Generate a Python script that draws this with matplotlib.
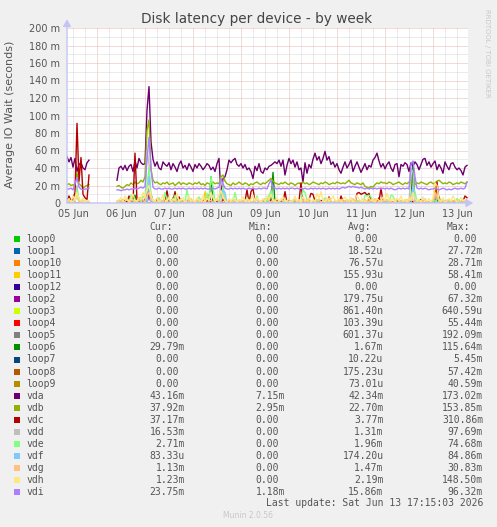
import numpy as np
import matplotlib
matplotlib.use('Agg')
import matplotlib.pyplot as plt
from matplotlib.patches import Rectangle

"""
Munin style 'Disk latency per device - by week' graph.
Values in milliseconds, one sample per hour, 05 Jun 09:00 .. 13 Jun 17:00.
"""

W, H = 497, 527

hours = np.arange(9, 210)
gap = [np.nan] * 13   # no data from 05 Jun 21:00 to 06 Jun 09:00

days = ['05 Jun', '06 Jun', '07 Jun', '08 Jun', '09 Jun', '10 Jun', '11 Jun', '12 Jun', '13 Jun']

vda = ([53, 47, 52, 41, 51, 36, 44, 46, 40, 38, 46, 49] + gap +
       [26, 40, 42, 38, 43, 37, 42, 44, 36, 48, 40, 51, 46, 44, 45, 106, 133, 70, 50] +
       [42, 47, 40, 38, 47, 44, 42, 46, 38, 45, 41, 36, 44, 48, 40, 43, 38, 45, 41] +
       [36, 44, 40, 45, 42, 38, 41, 45, 43, 38, 41, 36, 45, 51, 8, 28, 30, 38, 49, 46, 49, 51, 44, 42] +
       [45, 40, 44, 38, 40, 36, 28, 42, 37, 45, 36, 34, 40, 38, 42, 43, 45, 47, 45, 49, 42, 49, 32, 43] +
       [51, 45, 49, 41, 47, 38, 40, 24, 46, 34, 44, 40, 50, 57, 49, 53, 45, 51, 59, 49, 53, 44, 47, 41] +
       [45, 38, 34, 41, 47, 40, 44, 49, 36, 42, 47, 41, 35, 40, 45, 38, 43, 41, 49, 52, 57, 48, 41, 45] +
       [39, 44, 47, 40, 36, 44, 45, 30, 44, 42, 46, 44, 36, 46, 42, 47, 44, 38, 44, 50, 51, 43, 47, 41] +
       [45, 48, 38, 44, 40, 34, 47, 42, 38, 45, 46, 41, 38, 40, 37, 32, 41, 43])

vdb = ([21, 22, 20, 21, 19, 35, 22, 20, 17, 19, 20, 21] + gap +
       [19, 20, 18, 17, 19, 21, 20, 23, 21, 24, 22, 23, 26, 24, 30, 83, 95, 38, 26] +
       [23, 24, 22, 21, 23, 22, 24, 21, 22, 23, 20, 22, 24, 21, 23, 22, 21, 23, 22] +
       [21, 23, 22, 24, 21, 22, 20, 23, 22, 21, 24, 22, 23, 22, 30, 32, 25, 22, 21, 20, 23, 21, 22, 24] +
       [22, 21, 23, 22, 20, 22, 21, 23, 24, 22, 21, 23, 22, 24, 26, 28, 25, 23, 22, 21, 23, 22, 24, 22] +
       [21, 23, 22, 20, 22, 23, 21, 24, 22, 23, 21, 22, 24, 23, 22, 21, 23, 22, 24, 23, 21, 22, 23, 22] +
       [24, 23, 22, 23, 22, 24, 26, 23, 22, 21, 23, 22, 21, 23, 19, 18, 17, 19, 18, 21, 23, 22, 24, 23] +
       [23, 22, 24, 23, 21, 22, 23, 24, 22, 21, 23, 22, 24, 23, 22, 21, 23, 22, 24, 23, 22, 21, 23, 24] +
       [22, 23, 25, 26, 24, 22, 23, 22, 24, 23, 21, 22, 23, 22, 24, 23, 22, 24])

vdc = ([3, 8, 2, 5, 12, 91, 25, 52, 10, 6, 4, 32] + gap +
       [1, 3, 0, 4, 2, 1, 8, 2, 0, 57, 3, 1, 6, 2, 4, 12, 8, 10, 2] +
       [0, 5, 1, 2, 0, 3, 14, 1, 0, 2, 13, 0, 7, 1, 2, 0, 3, 1, 0] +
       [2, 0, 1, 3, 0, 1, 4, 2, 9, 1, 0, 3, 1, 2, 0, 5, 1, 0, 3, 1, 2, 0, 1, 2] +
       [0, 1, 2, 15, 0, 13, 17, 1, 0, 2, 1, 3, 0, 1, 5, 2, 0, 1, 3, 0, 2, 1, 13, 0] +
       [1, 2, 0, 3, 1, 2, 23, 1, 0, 2, 4, 11, 10, 2, 1, 0, 3, 1, 2, 0, 7, 1, 0, 2] +
       [1, 0, 8, 2, 1, 0, 3, 1, 2, 0, 11, 12, 10, 11, 12, 9, 11, 1, 0, 2, 1, 2, 17, 1] +
       [2, 1, 0, 2, 1, 0, 3, 1, 0, 2, 1, 0, 3, 1, 2, 0, 1, 2, 4, 1, 0, 2, 1, 0] +
       [3, 1, 24, 3, 0, 2, 1, 3, 0, 1, 2, 0, 1, 3, 0, 2, 8, 6])

vde = ([0, 2, 1, 0, 3, 15, 5, 1, 0, 2, 1, 0] + gap +
       [0, 1, 3, 0, 2, 5, 1, 9, 2, 0, 1, 4, 2, 8, 5, 20, 40, 10, 2] +
       [1, 0, 6, 2, 1, 12, 3, 0, 2, 1, 9, 1, 0, 4, 2, 1, 15, 3, 0] +
       [2, 1, 0, 7, 3, 1, 2, 11, 4, 30, 18, 2, 0, 1, 10, 18, 4, 1, 0, 3, 1, 12, 2, 1] +
       [0, 2, 1, 6, 3, 0, 1, 2, 8, 1, 0, 3, 5, 1, 9, 13, 6, 2, 0, 1, 4, 2, 1, 0] +
       [2, 0, 1, 3, 1, 0, 2, 15, 12, 3, 1, 0, 2, 1, 4, 1, 0, 2, 6, 1, 3, 0, 1, 2] +
       [1, 3, 0, 2, 1, 4, 0, 1, 2, 0, 3, 1, 2, 0, 9, 8, 9, 7, 2, 1, 0, 2, 1, 3] +
       [0, 2, 1, 9, 8, 3, 1, 0, 2, 1, 4, 2, 1, 6, 18, 12, 3, 1, 0, 2, 5, 1, 0, 2] +
       [1, 3, 0, 2, 4, 1, 0, 2, 1, 3, 0, 1, 5, 2, 0, 1, 3, 3])

vdg = ([1, 3, 2, 0, 4, 6, 2, 1, 3, 2, 1, 2] + gap +
       [2, 1, 3, 0, 2, 5, 1, 2, 4, 1, 3, 2, 6, 3, 1, 8, 12, 4, 2] +
       [1, 2, 4, 1, 3, 0, 2, 5, 1, 3, 2, 1, 4, 2, 0, 3, 1, 2, 5] +
       [2, 0, 3, 1, 4, 2, 1, 6, 2, 3, 1, 2, 5, 1, 3, 8, 2, 1, 3, 0, 2, 4, 1, 2] +
       [1, 3, 2, 0, 4, 1, 2, 5, 3, 1, 2, 0, 3, 6, 2, 1, 4, 2, 1, 3, 0, 2, 5, 1] +
       [2, 1, 3, 4, 1, 2, 0, 3, 1, 5, 2, 1, 3, 0, 2, 4, 1, 2, 3, 1, 6, 2, 0, 3] +
       [1, 2, 4, 1, 3, 0, 2, 1, 5, 2, 1, 3, 2, 0, 4, 1, 2, 3, 1, 5, 2, 1, 0, 3] +
       [2, 4, 1, 3, 0, 2, 5, 1, 3, 2, 1, 4, 2, 8, 3, 1, 2, 0, 3, 1, 4, 2, 1, 2] +
       [3, 12, 8, 2, 1, 3, 0, 2, 4, 1, 2, 3, 1, 0, 2, 4, 1, 2])

vdh = ([2, 5, 1, 8, 3, 12, 4, 2, 6, 1, 3, 2] + gap +
       [1, 3, 6, 2, 8, 4, 1, 5, 10, 3, 2, 7, 4, 12, 6, 15, 20, 8, 3] +
       [2, 6, 1, 4, 9, 3, 2, 7, 1, 5, 3, 11, 2, 4, 6, 1, 3, 8, 2] +
       [4, 1, 6, 3, 2, 8, 1, 5, 3, 12, 6, 2, 4, 9, 14, 7, 3, 1, 5, 2, 6, 3, 1, 4] +
       [3, 7, 2, 5, 1, 4, 9, 2, 6, 3, 1, 5, 2, 8, 4, 10, 3, 1, 6, 2, 4, 7, 3, 2] +
       [5, 1, 3, 8, 2, 4, 1, 7, 3, 2, 6, 1, 4, 2, 11, 5, 13, 3, 1, 6, 2, 4, 8, 3] +
       [2, 5, 1, 4, 7, 3, 2, 6, 1, 3, 9, 4, 2, 5, 1, 3, 6, 2, 4, 1, 5, 3, 2, 7] +
       [3, 11, 4, 2, 6, 1, 5, 3, 8, 2, 4, 1, 6, 3, 12, 5, 2, 4, 1, 7, 3, 2, 5, 1] +
       [6, 23, 20, 4, 2, 6, 1, 3, 5, 2, 8, 4, 1, 3, 6, 2, 4, 1])

vdi = ([16, 16, 17, 15, 22, 29, 18, 16, 15, 16, 16, 17] + gap +
       [15, 15, 14, 15, 15, 16, 15, 16, 16, 17, 16, 17, 18, 17, 19, 50, 75, 40, 18] +
       [16, 16, 17, 16, 16, 17, 16, 17, 16, 16, 17, 16, 17, 16, 17, 16, 16, 17, 16] +
       [17, 16, 17, 16, 17, 16, 17, 16, 16, 17, 17, 16, 17, 18, 28, 22, 17, 16, 16, 17, 16, 17, 16, 17] +
       [16, 17, 16, 16, 17, 16, 17, 16, 16, 17, 16, 17, 17, 16, 22, 26, 18, 17, 16, 17, 16, 17, 16, 17] +
       [16, 17, 17, 16, 17, 16, 17, 16, 17, 16, 16, 17, 16, 17, 16, 17, 16, 17, 16, 16, 17, 16, 17, 16] +
       [17, 16, 17, 18, 17, 18, 19, 18, 19, 18, 18, 17, 18, 17, 16, 17, 16, 17, 16, 17, 16, 17, 16, 17] +
       [16, 17, 16, 17, 16, 15, 16, 17, 16, 17, 16, 17, 16, 45, 48, 30, 17, 16, 17, 16, 17, 16, 15, 16] +
       [16, 17, 16, 15, 16, 17, 16, 15, 16, 15, 16, 17, 16, 16, 17, 16, 17, 24])

# mostly idle devices: (hour, ms) of the few non zero samples
loop0_spikes = []
loop1_spikes = [(120, 4)]
loop10_spikes = [(45, 6)]
loop11_spikes = [(78, 13), (193, 20)]
loop12_spikes = []
loop2_spikes = [(50, 10)]
loop3_spikes = []
loop4_spikes = [(111, 8), (165, 6)]
loop5_spikes = [(50, 20), (111, 8)]
loop6_spikes = [(43, 9), (62, 6), (81, 30), (112, 35), (130, 5), (182, 47), (195, 7)]
loop7_spikes = []
loop8_spikes = [(160, 6)]
loop9_spikes = [(100, 5)]
vdd_spikes = [(14, 20), (49, 60), (50, 45), (86, 25), (87, 20), (111, 15), (181, 40), (182, 35), (193, 10)]
vdf_spikes = [(50, 30), (87, 15), (88, 12), (182, 20)]

names = ['loop0', 'loop1', 'loop10', 'loop11', 'loop12', 'loop2', 'loop3', 'loop4', 'loop5',
         'loop6', 'loop7', 'loop8', 'loop9', 'vda', 'vdb', 'vdc', 'vdd', 'vde', 'vdf', 'vdg',
         'vdh', 'vdi']
colors = ['#00cc00', '#0066b3', '#ff8000', '#ffcc00', '#330099', '#990099', '#ccff00', '#ff0000',
          '#808080', '#008f00', '#00487d', '#b35a00', '#b38f00', '#6b006b', '#8fb300', '#b30000',
          '#bebebe', '#80ff80', '#80c9ff', '#ffc080', '#ffe680', '#aa80ff']
cur = ['0.00', '0.00', '0.00', '0.00', '0.00', '0.00', '0.00', '0.00', '0.00', '29.79m', '0.00',
       '0.00', '0.00', '43.16m', '37.92m', '37.17m', '16.53m', '2.71m', '83.33u', '1.13m', '1.23m',
       '23.75m']
mins = ['0.00', '0.00', '0.00', '0.00', '0.00', '0.00', '0.00', '0.00', '0.00', '0.00', '0.00',
        '0.00', '0.00', '7.15m', '2.95m', '0.00', '0.00', '0.00', '0.00', '0.00', '0.00', '1.18m']
avgs = ['0.00', '18.52u', '76.57u', '155.93u', '0.00', '179.75u', '861.40n', '103.39u', '601.37u',
        '1.67m', '10.22u', '175.23u', '73.01u', '42.34m', '22.70m', '3.77m', '1.31m', '1.96m',
        '174.20u', '1.47m', '2.19m', '15.86m']
maxs = ['0.00', '27.72m', '28.71m', '58.41m', '0.00', '67.32m', '640.59u', '55.44m', '192.09m',
        '115.64m', '5.45m', '57.42m', '40.59m', '173.02m', '153.85m', '310.86m', '97.69m', '74.68m',
        '84.86m', '30.83m', '148.50m', '96.32m']

missing = np.isnan(np.array(vda, dtype=float))


def from_spikes(pairs):
    s = np.zeros(len(hours))
    for h, v in pairs:
        s[h - hours[0]] = v
    s[missing] = np.nan
    return s


series = {
    'loop0': from_spikes(loop0_spikes), 'loop1': from_spikes(loop1_spikes),
    'loop10': from_spikes(loop10_spikes), 'loop11': from_spikes(loop11_spikes),
    'loop12': from_spikes(loop12_spikes), 'loop2': from_spikes(loop2_spikes),
    'loop3': from_spikes(loop3_spikes), 'loop4': from_spikes(loop4_spikes),
    'loop5': from_spikes(loop5_spikes), 'loop6': from_spikes(loop6_spikes),
    'loop7': from_spikes(loop7_spikes), 'loop8': from_spikes(loop8_spikes),
    'loop9': from_spikes(loop9_spikes), 'vda': vda, 'vdb': vdb, 'vdc': vdc,
    'vdd': from_spikes(vdd_spikes), 'vde': vde, 'vdf': from_spikes(vdf_spikes),
    'vdg': vdg, 'vdh': vdh, 'vdi': vdi,
}

TXT = '#555555'
MGRID = '#eab4b4'
GRID = '#d8d8d8'
AXIS = '#c4c4f4'


def px(x, y):
    return x / W, 1 - y / H


def plot_graph(fig):
    ax = fig.add_axes([67 / W, 1 - 203 / H, 401 / W, 175 / H])
    ax.set_facecolor('white')
    ax.set_xlim(9, 209.5)
    ax.set_ylim(0, 200)

    # 1px on / 1px off dotted grid
    dots = dict(lw=0.72, ls=(0, (1, 1)), zorder=0)
    for h in range(12, 210, 6):
        ax.axvline(h, color=MGRID if h % 24 == 0 else GRID, **dots)
    for v in range(10, 201, 10):
        ax.axhline(v, color=MGRID if v % 20 == 0 else GRID, **dots)

    for name, c in zip(names, colors):
        ax.plot(hours, np.asarray(series[name], dtype=float), color=c, lw=1.0, zorder=2)

    ax.set_xticks([12 + 24 * k for k in range(len(days))])
    ax.set_xticklabels(days)
    yt = list(range(0, 201, 20))
    ax.set_yticks(yt)
    ax.set_yticklabels([f'{v} m' if v else '0' for v in yt])
    ax.tick_params(length=0, labelsize=7, colors=TXT)
    ax.tick_params(axis='x', pad=4)
    ax.tick_params(axis='y', pad=5)
    for s in ax.spines.values():
        s.set_visible(False)

    arrow = dict(arrowstyle='-|>,head_length=0.7,head_width=0.4', color=AXIS, lw=1,
                 shrinkA=0, shrinkB=0, mutation_scale=6)
    ax.annotate('', xy=(0, 1.05), xytext=(0, 0), xycoords='axes fraction',
                arrowprops=arrow, annotation_clip=False)
    ax.annotate('', xy=(1.013, 0), xytext=(0, 0), xycoords='axes fraction',
                arrowprops=arrow, annotation_clip=False)
    return ax


def draw_legend(fig):
    mono = dict(family='DejaVu Sans Mono', fontsize=7, color=TXT, va='center')
    cw = 0.602 * 7 * 100 / 72
    y0 = 227
    for label, x in zip(['Cur:', 'Min:', 'Avg:', 'Max:'], [149, 249, 348, 447]):
        fig.text(*px(x, y0), label, ha='left', **mono)
    edges = [185, 285, 383.5, 483]
    for i, name in enumerate(names):
        y = 239.3 + 12.02 * i
        fig.add_artist(Rectangle(px(14, y + 3), 6 / W, 6 / H, transform=fig.transFigure,
                                 color=colors[i], lw=0))
        fig.text(*px(26.7, y), name, ha='left', **mono)
        for col, edge in zip([cur, mins, avgs, maxs], edges):
            s = col[i]
            x = edge if s[-1].isalpha() else edge - cw
            fig.text(*px(x, y), s, ha='right', **mono)
    fig.text(*px(483, 503.5), 'Last update: Sat Jun 13 17:15:03 2026', ha='right', **mono)


fig = plt.figure(figsize=(W / 100, H / 100), dpi=100, facecolor='#f0f0f0')
plot_graph(fig)
fig.text(*px(257, 19), 'Disk latency per device - by week', ha='center', va='center',
         fontsize=9.8, color='#444444')
fig.text(*px(10, 114), 'Average IO Wait (seconds)', ha='center', va='center', rotation=90,
         fontsize=8, color=TXT)
fig.text(*px(487, 53), 'RRDTOOL / TOBI OETIKER', ha='center', va='center', rotation=270,
         fontsize=5, color='#c8c8c8')
fig.text(*px(248, 516), 'Munin 2.0.56', ha='center', va='center', fontsize=5.5, color='#c8c8c8')
draw_legend(fig)
fig.savefig('out.png', dpi=100, facecolor=fig.get_facecolor())
